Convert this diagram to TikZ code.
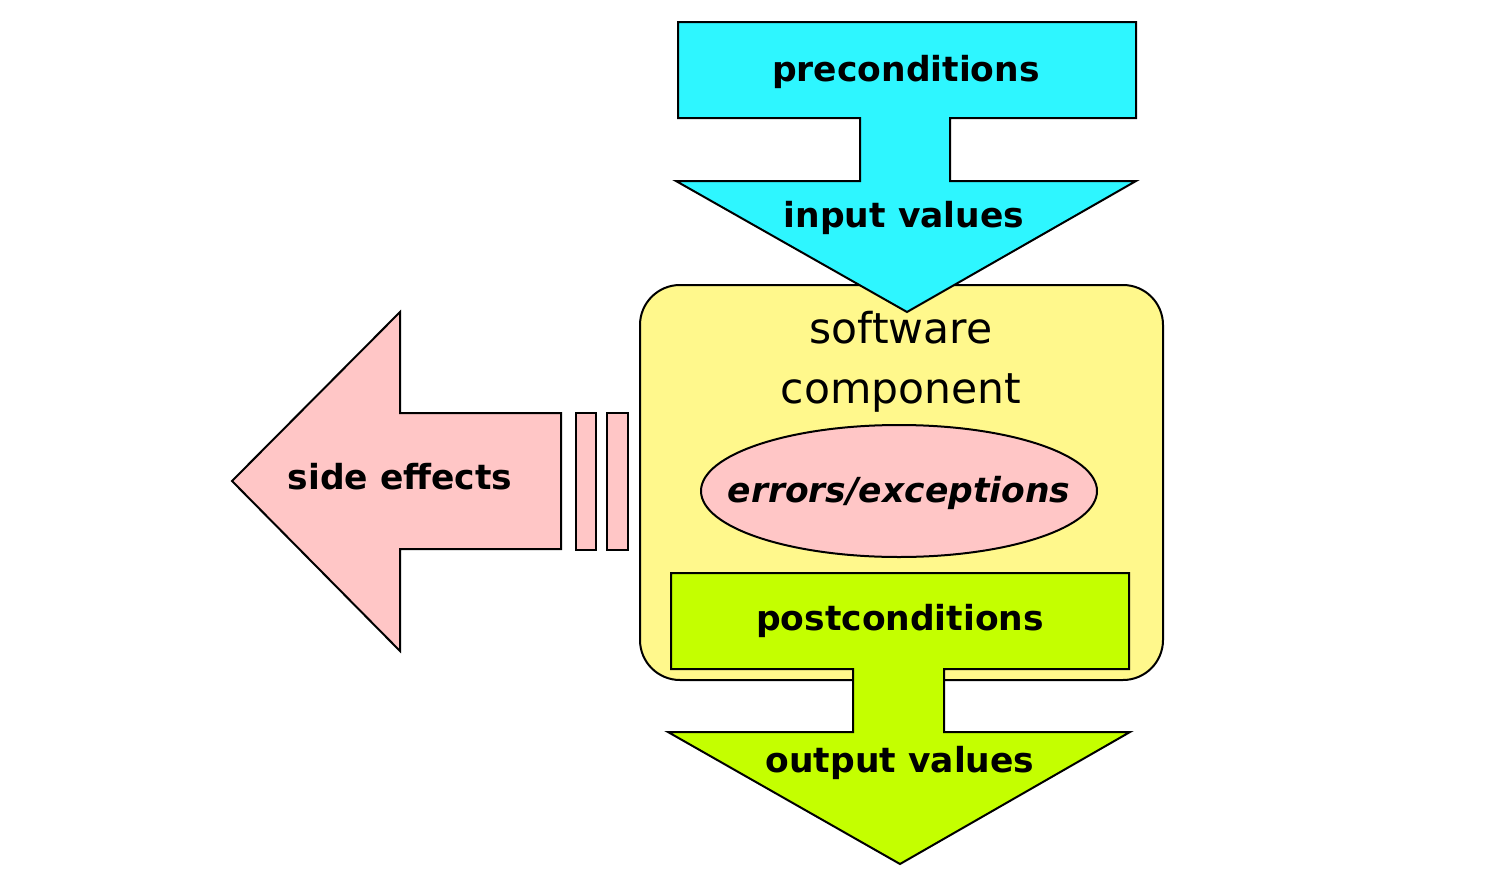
\documentclass[tikz,border=0pt]{standalone}
\usepackage{fontspec}
\setmainfont{DejaVu Sans}
\definecolor{cyanA}{RGB}{46,246,255}
\definecolor{yellowA}{RGB}{255,248,140}
\definecolor{pinkA}{RGB}{255,198,198}
\definecolor{greenA}{RGB}{196,255,0}
\tikzset{
  shapeline/.style={draw=black, line width=2pt, line join=miter},
  lbl/.style={font=\fontsize{34.5}{41}\selectfont\bfseries, anchor=base, inner sep=0pt},
}
\begin{document}
\begin{tikzpicture}[x=1pt,y=-1pt]
\useasboundingbox (0,0) rectangle (1488,878);
% software component box
\draw[shapeline, fill=yellowA, rounded corners=40pt] (640,285) rectangle (1163,680);
% precondition arrow
\draw[shapeline, fill=cyanA] (678,22) -- (1136,22) -- (1136,118) -- (950,118) -- (950,181) -- (1136,181) -- (907,312) -- (676,181) -- (860,181) -- (860,118) -- (678,118) -- cycle;
% postcondition arrow
\draw[shapeline, fill=greenA] (671,573) -- (1129,573) -- (1129,669) -- (944,669) -- (944,732) -- (1130,732) -- (900,864) -- (668,732) -- (853,732) -- (853,669) -- (671,669) -- cycle;
% side effects arrow
\draw[shapeline, fill=pinkA] (232,481) -- (400,312) -- (400,413) -- (561,413) -- (561,549) -- (400,549) -- (400,651) -- cycle;
\draw[shapeline, fill=pinkA] (576,413) rectangle (596,550);
\draw[shapeline, fill=pinkA] (607,413) rectangle (628,550);
% errors ellipse
\draw[shapeline, fill=pinkA] (899,491) ellipse [x radius=198, y radius=66];
% labels
\node[lbl] (pre) at (906,81) {preconditions};
\node[lbl] (inp) at (904,227) {input values};
\node[font=\fontsize{42.5}{60}\selectfont, align=center, anchor=base, inner sep=0pt] (sw) at (901,403) {software\\component};
\node[lbl, font=\fontsize{34.5}{41}\selectfont\bfseries\itshape] (err) at (899,502) {errors/exceptions};
\node[lbl] (post) at (900,630) {postconditions};
\node[lbl] (out) at (900,772) {output values};
\node[lbl] (side) at (400,489) {side effects};
\end{tikzpicture}
\end{document}
